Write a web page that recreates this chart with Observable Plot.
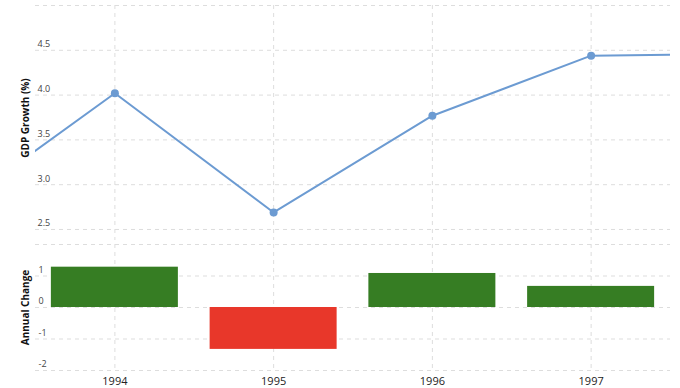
<!DOCTYPE html>
<html>
<head>
<meta charset="utf-8">
<script src="https://cdn.jsdelivr.net/npm/d3@7"></script>
<script src="https://cdn.jsdelivr.net/npm/@observablehq/plot@0.6"></script>
<style>
  html, body { margin: 0; padding: 0; background: #fff; }
  #chart { width: 680px; height: 388px; overflow: hidden; }
  #chart svg { display: block; }
</style>
</head>
<body>
<div id="chart"></div>
<script>
const years = [1993, 1994, 1995, 1996, 1997, 1998];
const gdpGrowth = [2.74, 4.02, 2.69, 3.77, 4.44, 4.46];
const changeYears = [1994, 1995, 1996, 1997];
const annualChange = [1.28, -1.33, 1.08, 0.67];
const xTicks = [1994, 1995, 1996, 1997];
const topTicks = [2.5, 3.0, 3.5, 4.0, 4.5];
const topGrid = [2.5, 3.0, 3.5, 4.0, 4.5, 5.0];
const bottomTicks = [-2, -1, 0, 1];
const bottomGrid = [-2, -1, 0, 1, 2];
const topLabel = ["GDP Growth (%)"];
const bottomLabel = ["Annual Change"];

const lineData = years.map((y, i) => ({year: y, value: gdpGrowth[i]}));
const pointData = lineData.filter(d => d.year >= 1994 && d.year <= 1997);
const barData = changeYears.map((y, i) => ({year: y, value: annualChange[i]}));

const FONT = "'Open Sans', 'DejaVu Sans', sans-serif";
const GRID = "#dddddd";

const topChart = Plot.plot({
  width: 680, height: 240,
  marginLeft: 35, marginRight: 10, marginTop: 5, marginBottom: 0,
  style: {fontFamily: FONT, background: "transparent", overflow: "hidden"},
  x: {domain: [1993.5, 1997.5], axis: null},
  y: {domain: [2.377, 5], axis: null},
  marks: [
    Plot.ruleY(topGrid, {stroke: GRID, strokeDasharray: "4,4", strokeWidth: 1}),
    Plot.ruleX(xTicks, {stroke: GRID, strokeDasharray: "4,4", strokeWidth: 1}),
    Plot.text(topTicks, {x: 1993.5, y: d => d, text: d => d.toFixed(1), textAnchor: "start", dx: 2, dy: -6, fontSize: 9, fill: "#444"}),
    Plot.line(lineData, {x: "year", y: "value", stroke: "#6c9bd2", strokeWidth: 2, clip: true}),
    Plot.dot(pointData, {x: "year", y: "value", r: 4, fill: "#6c9bd2", stroke: "none"}),
    Plot.text(topLabel, {frameAnchor: "left", textAnchor: "middle", rotate: -90, dx: -10, dy: -5, text: d => d, fontWeight: "bold", fontSize: 10, fill: "#111"})
  ]
});

const bottomChart = Plot.plot({
  width: 680, height: 148,
  marginLeft: 35, marginRight: 10, marginTop: 4, marginBottom: 18,
  style: {fontFamily: FONT, background: "transparent", overflow: "visible"},
  x: {domain: [1993.5, 1997.5]},
  y: {domain: [-2, 2], axis: null},
  marks: [
    Plot.ruleY(bottomGrid, {stroke: GRID, strokeDasharray: "4,4", strokeWidth: 1}),
    Plot.ruleX(xTicks, {stroke: GRID, strokeDasharray: "4,4", strokeWidth: 1}),
    Plot.text(bottomTicks, {x: 1993.5, y: d => d, text: d => String(d), textAnchor: "start", dx: 3, dy: -6, fontSize: 9, fill: "#444"}),
    Plot.rectY(barData, {
      x1: d => d.year - 0.4, x2: d => d.year + 0.4,
      y1: 0, y2: "value",
      fill: d => d.value >= 0 ? "#367d23" : "#e8372a"
    }),
    Plot.axisX(xTicks, {tickSize: 0, tickPadding: 7, tickFormat: d => String(d), fontSize: 11, fill: "#222", label: null}),
    Plot.text(bottomLabel, {frameAnchor: "left", textAnchor: "middle", rotate: -90, dx: -10, text: d => d, fontWeight: "bold", fontSize: 10, fill: "#111"})
  ]
});

const el = document.getElementById("chart");
el.appendChild(topChart);
el.appendChild(bottomChart);
</script>
</body>
</html>
